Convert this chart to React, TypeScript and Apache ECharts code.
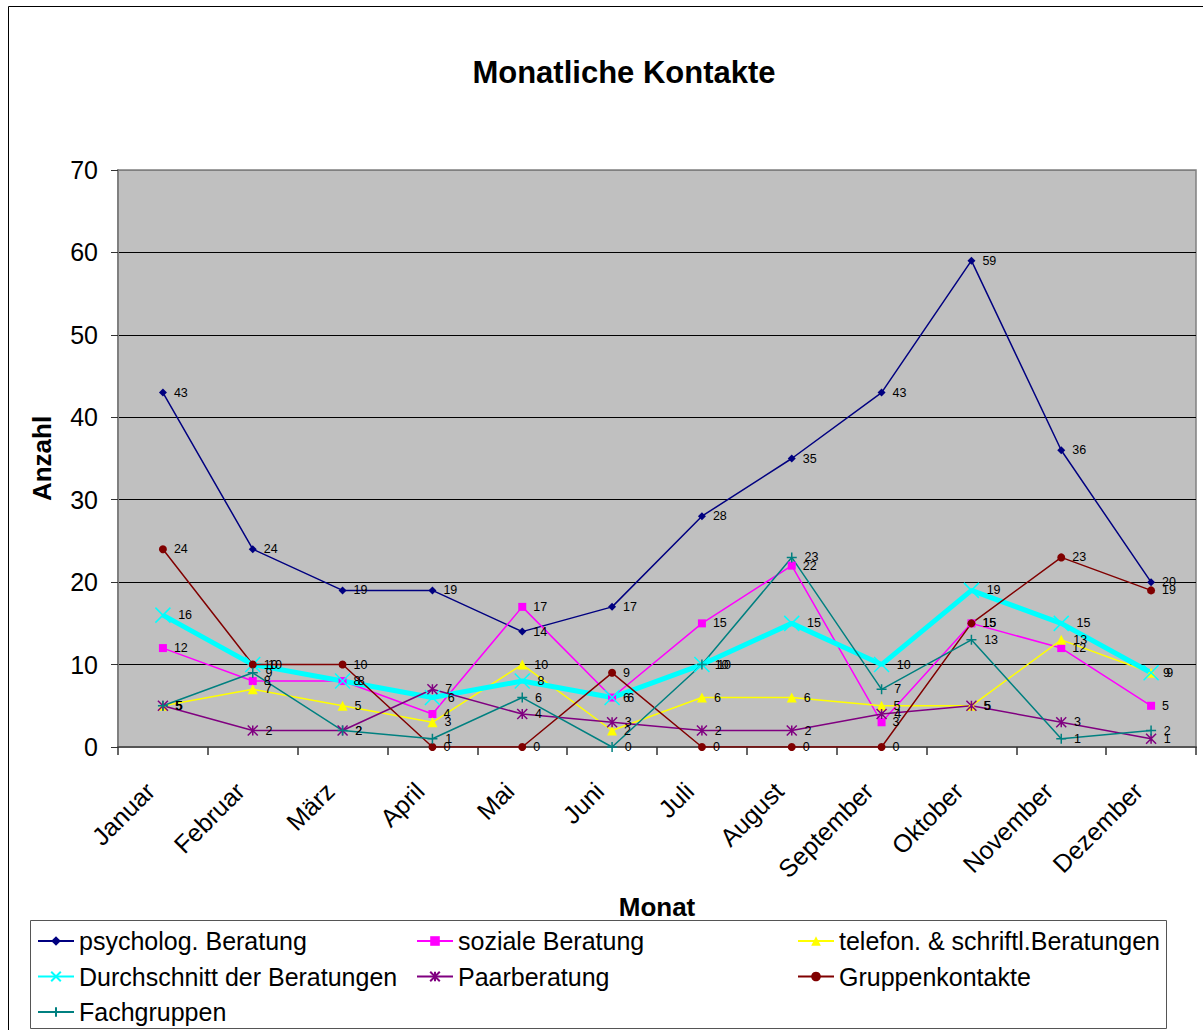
import React, { useEffect, useRef } from "react";
import * as echarts from "echarts";

const months = ["Januar", "Februar", "März", "April", "Mai", "Juni", "Juli", "August", "September", "Oktober", "November", "Dezember"];
const psycholog = [43, 24, 19, 19, 14, 17, 28, 35, 43, 59, 36, 20];
const sozial = [12, 8, 8, 4, 17, 6, 15, 22, 3, 15, 12, 5];
const telefon = [5, 7, 5, 3, 10, 2, 6, 6, 5, 5, 13, 9];
const durchschnitt = [16, 10, 8, 6, 8, 6, 10, 15, 10, 19, 15, 9];
const paar = [5, 2, 2, 7, 4, 3, 2, 2, 4, 5, 3, 1];
const gruppen = [24, 10, 10, 0, 0, 9, 0, 0, 0, 15, 23, 19];
const fach = [5, 9, 2, 1, 6, 0, 10, 23, 7, 13, 1, 2];

const FONT = "'Liberation Sans', Arial, sans-serif";

const X_PATH = "path://M0,0L10,10M10,0L0,10";
const STAR_PATH = "path://M5,0L5,10M0,0L10,10M10,0L0,10";
const PLUS_PATH = "path://M5,0L5,10M0,5L10,5";

export default function App() {
  const ref = useRef<HTMLDivElement>(null);
  useEffect(() => {
    if (!ref.current) return;
    const chart = echarts.init(ref.current, null, { renderer: "svg" });
    const label = { show: true, position: "right", distance: 7, fontSize: 12.5, color: "#000", fontFamily: FONT };
    const mk = (name: string, data: number[], color: string, symbol: string, size: number, width: number, stroke = false) => ({
      name,
      type: "line",
      data,
      symbol,
      symbolSize: size,
      showAllSymbol: true,
      lineStyle: { color, width },
      itemStyle: stroke ? { color, borderColor: color, borderWidth: 1.5 } : { color, borderWidth: 0 },
      label,
      emphasis: { disabled: true },
    });
    const legendBase = {
      orient: "vertical",
      top: 927,
      height: 110,
      padding: 0,
      itemWidth: 36,
      itemHeight: 12,
      itemGap: 7.5,
      textStyle: { fontSize: 25, fontFamily: FONT, color: "#000", lineHeight: 28 },
      selectedMode: false,
    };
    chart.setOption({
      animation: false,
      backgroundColor: "#fff",
      textStyle: { fontFamily: FONT },
      grid: { left: 118, top: 170, right: 7, bottom: 283, show: true, backgroundColor: "#C0C0C0", borderColor: "#808080", borderWidth: 1.5 },
      xAxis: {
        type: "category",
        data: months,
        boundaryGap: true,
        name: "Monat",
        nameLocation: "middle",
        nameGap: 147,
        nameTextStyle: { fontSize: 26, fontWeight: "bold", color: "#000", fontFamily: FONT },
        axisLine: { lineStyle: { color: "#555", width: 2 } },
        axisTick: { show: true, length: 8, lineStyle: { color: "#333", width: 1.5 } },
        axisLabel: { rotate: 45, fontSize: 25, color: "#000", margin: 27, padding: [0, 18, 0, 0], fontFamily: FONT, interval: 0 },
        splitLine: { show: false },
      },
      yAxis: {
        type: "value",
        min: 0,
        max: 70,
        interval: 10,
        name: "Anzahl",
        nameLocation: "middle",
        nameGap: 63,
        nameRotate: 90,
        nameTextStyle: { fontSize: 26, fontWeight: "bold", color: "#000", fontFamily: FONT },
        axisLine: { show: true, lineStyle: { color: "#808080", width: 2 } },
        axisTick: { show: true, length: 7, lineStyle: { color: "#333" } },
        axisLabel: { fontSize: 25, color: "#000", margin: 20, fontFamily: FONT },
        splitLine: { show: true, lineStyle: { color: ["#555", "#000", "#000", "#000", "#000", "#000", "#000", "#808080"], width: 1 } },
      },
      legend: [
        { ...legendBase, left: 37, data: ["psycholog. Beratung", "Durchschnitt der Beratungen", "Fachgruppen"] },
        { ...legendBase, left: 416, data: ["soziale Beratung", "Paarberatung"] },
        { ...legendBase, left: 797, data: ["telefon. & schriftl.Beratungen", "Gruppenkontakte"] },
      ],
      graphic: [
        { type: "rect", shape: { x: 8.5, y: 6.5, width: 1300, height: 1100 }, style: { fill: "none", stroke: "#000", lineWidth: 1 }, silent: true, z: -10 },
        { type: "rect", shape: { x: 30.5, y: 920.5, width: 1136, height: 108 }, style: { fill: "#fff", stroke: "#555", lineWidth: 1 }, silent: true, z: -5 },
        { type: "text", x: 624, y: 72, style: { text: "Monatliche Kontakte", fontSize: 31, fontWeight: "bold", fill: "#000", fontFamily: FONT, textAlign: "center", textVerticalAlign: "middle" }, silent: true },
      ],
      series: [
        mk("psycholog. Beratung", psycholog, "#000080", "diamond", 8, 1.5),
        mk("soziale Beratung", sozial, "#FF00FF", "rect", 8, 1.5),
        mk("telefon. & schriftl.Beratungen", telefon, "#FFFF00", "triangle", 10, 1.5),
        mk("Durchschnitt der Beratungen", durchschnitt, "#00FFFF", X_PATH, 15, 5, true),
        mk("Paarberatung", paar, "#800080", STAR_PATH, 10, 1.5, true),
        mk("Gruppenkontakte", gruppen, "#800000", "circle", 8, 1.5),
        mk("Fachgruppen", fach, "#008080", PLUS_PATH, 10, 1.5, true),
      ],
    });
    return () => chart.dispose();
  }, []);
  return <div ref={ref} style={{ position: "fixed", left: 0, top: 0, width: 1203, height: 1030 }} />;
}
